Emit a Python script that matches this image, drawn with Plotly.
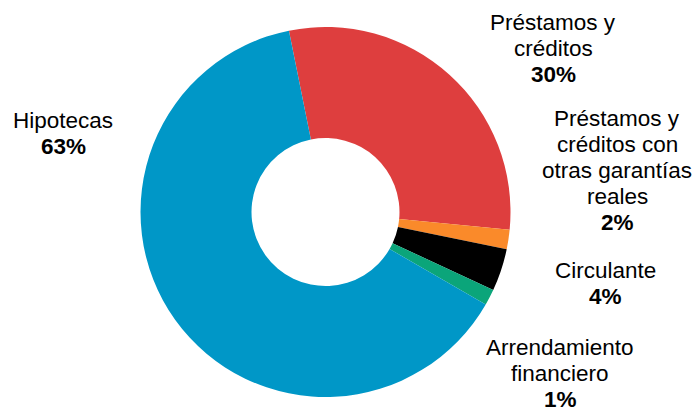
import plotly.graph_objects as go

categories = ["Préstamos y créditos", "Préstamos y créditos con otras garantías reales",
              "Circulante", "Arrendamiento financiero", "Hipotecas"]
values = [29.7, 1.7, 3.7, 1.4, 63.5]
pct_labels = ["30%", "2%", "4%", "1%", "63%"]
colors = ["#DE3E3E", "#FA8A2A", "#000000", "#0BA57A", "#0097C7"]

# label lines as shown in the chart
label_lines = [
    ["Préstamos y", "créditos"],
    ["Préstamos y", "créditos con", "otras garantías", "reales"],
    ["Circulante"],
    ["Arrendamiento", "financiero"],
    ["Hipotecas"],
]
# label block anchor (pixel center x, first line center y)
label_pos = [(553, 22), (617, 118), (605, 270), (560, 347), (63, 120)]
LINE = 26.2

W, H = 700, 409

fig = go.Figure(go.Pie(
    labels=categories, values=values, marker=dict(colors=colors, line=dict(width=0)),
    hole=0.4, sort=False, direction="clockwise", rotation=-11.4,
    textinfo="none", hoverinfo="label+percent", showlegend=False,
    domain=dict(x=[140.5 / W, 510.5 / W], y=[(H - 397) / H, (H - 27) / H]),
))

font = dict(family="Liberation Sans, Arial, sans-serif", size=22.5, color="#000000")
for lines, pct, (px, py) in zip(label_lines, pct_labels, label_pos):
    all_lines = lines + ["<b>" + pct + "</b>"]
    for i, t in enumerate(all_lines):
        fig.add_annotation(
            x=px / W, y=1 - (py + i * LINE) / H, xref="paper", yref="paper",
            text=t, showarrow=False, xanchor="center", yanchor="middle",
            font=font,
        )

fig.update_layout(
    width=W, height=H, margin=dict(l=0, r=0, t=0, b=0),
    paper_bgcolor="white", plot_bgcolor="white",
)
fig.write_html("out.html", config={"displayModeBar": False},
               post_script="document.body.style.margin='0';document.body.style.overflow='hidden';")
